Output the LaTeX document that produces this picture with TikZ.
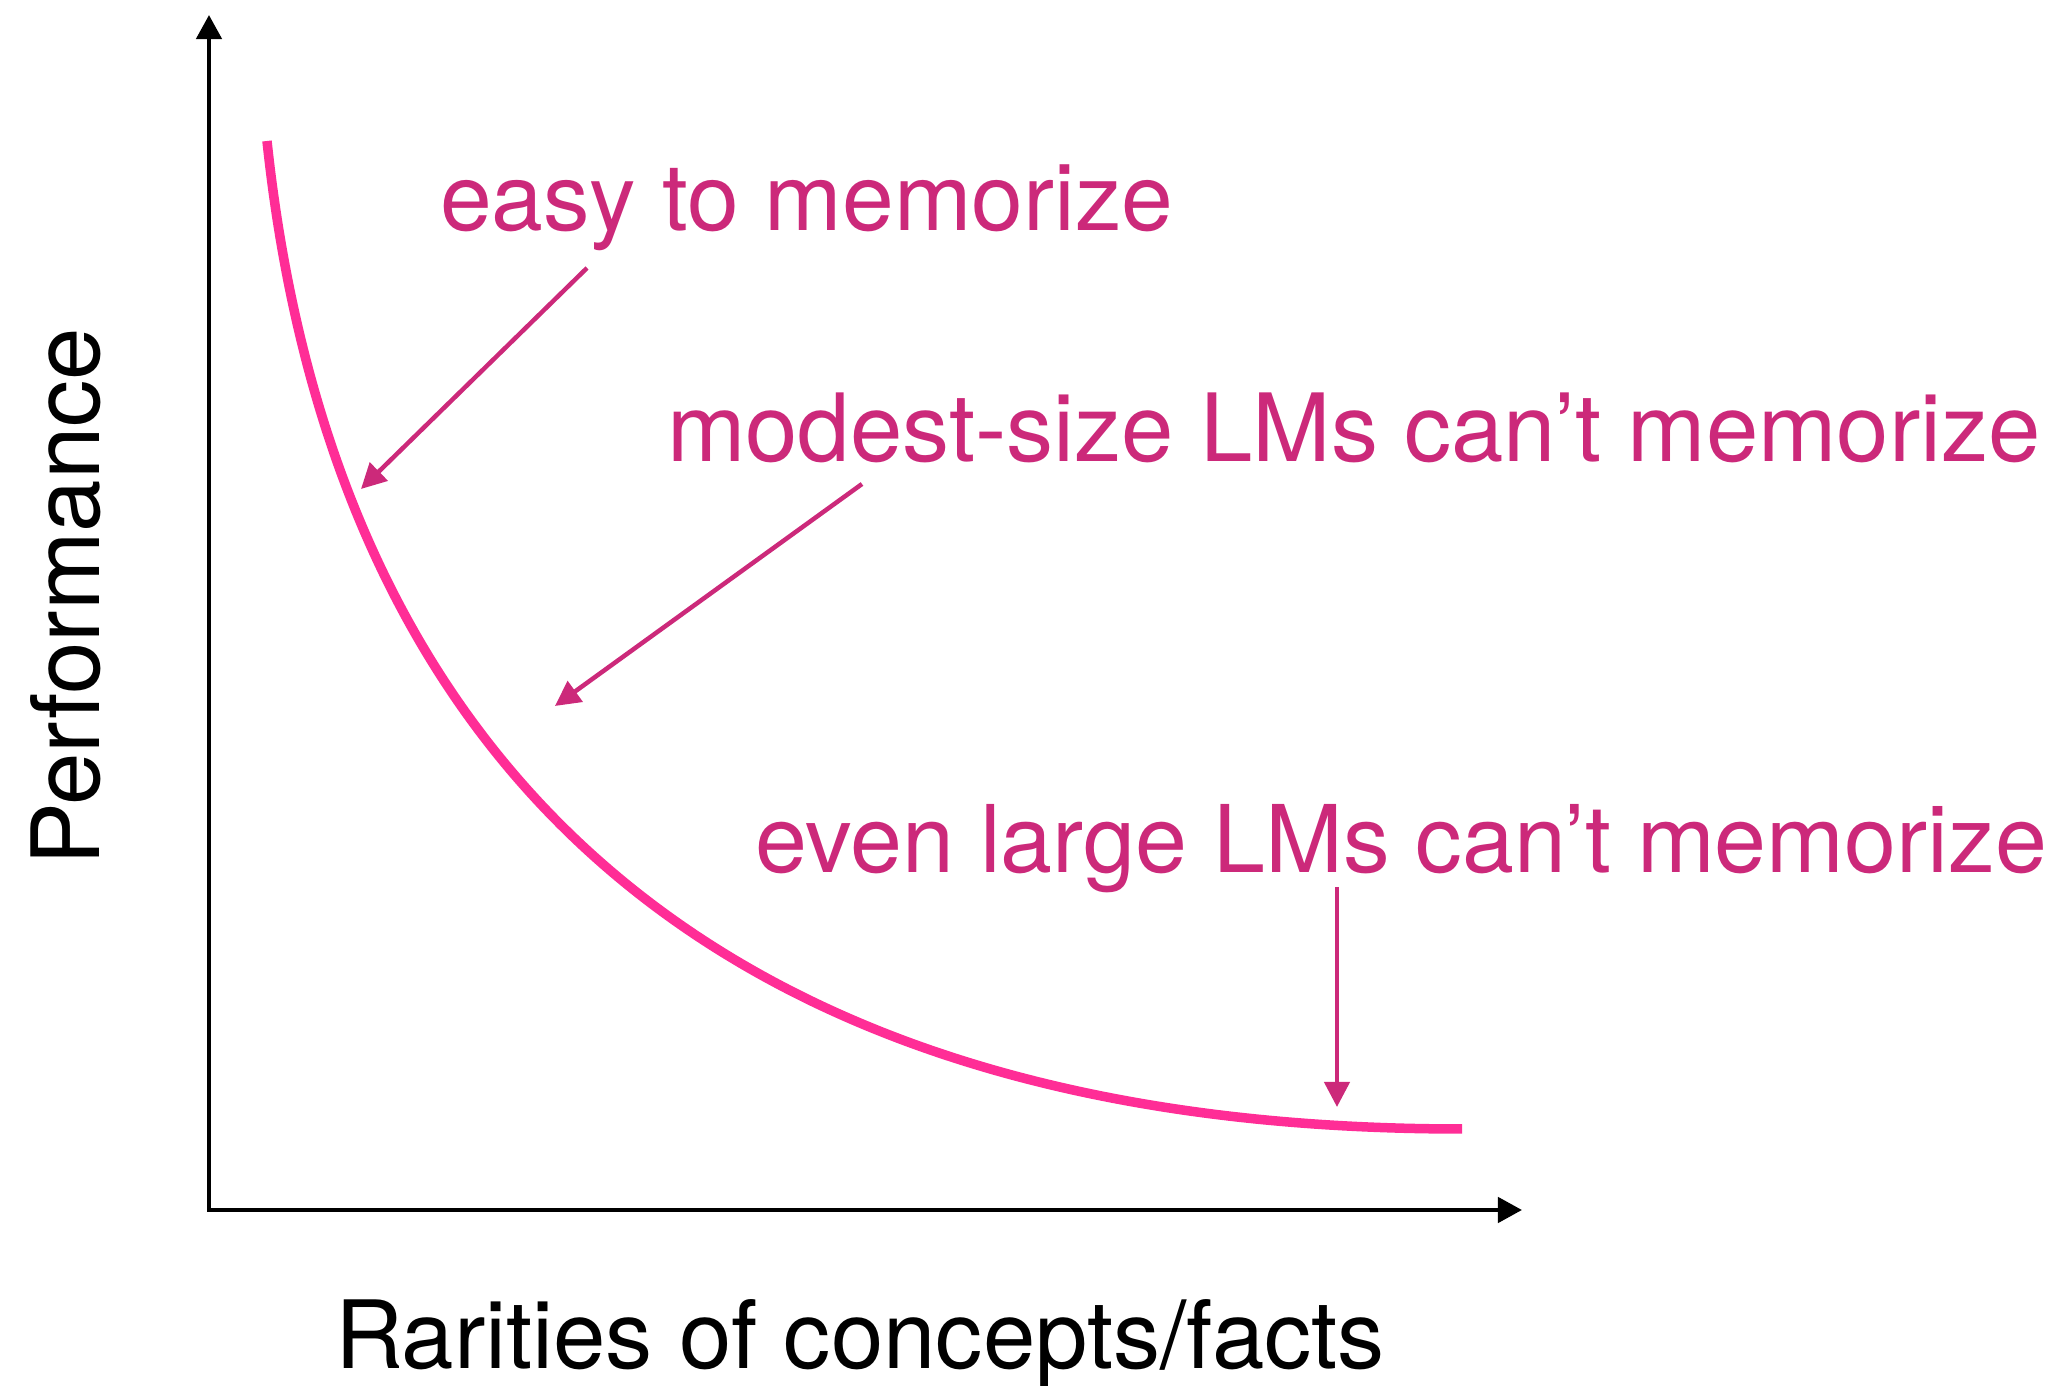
\documentclass[tikz,border=0pt]{standalone}
\usepackage{fontspec}
\setmainfont{TeX Gyre Heros}
\usetikzlibrary{arrows.meta}
\definecolor{annot}{RGB}{204,41,122}
\definecolor{curvepink}{RGB}{255,45,150}
\tikzset{
  lbl/.style={inner sep=0pt, outer sep=0pt, font=\fontsize{26.46pt}{32pt}\selectfont},
  axislbl/.style={lbl, text=black, font=\fontsize{26.8pt}{32pt}\selectfont},
  notelbl/.style={lbl, text=annot},
  axisline/.style={line width=0.045cm, black, line join=miter,
    {Triangle[length=0.24cm,width=0.25cm]}-{Triangle[length=0.24cm,width=0.25cm]}},
  notearrow/.style={line width=0.045cm, annot, -{Triangle[length=0.25cm,width=0.25cm]}},
  trend/.style={line width=0.095cm, curvepink}
}
\begin{document}
\begin{tikzpicture}[x=0.01cm, y=-0.01cm]
  \useasboundingbox (0,0) rectangle (2065,1386);

  % axes
  \coordinate (ytop) at (209,15);
  \coordinate (origin) at (209,1210);
  \coordinate (xend) at (1522,1210);
  \draw[axisline] (ytop) -- (origin) -- (xend);

  % axis labels
  \node[axislbl, anchor=base west] (xlabel) at (335,1369) {Rarities of concepts/facts};
  \node[axislbl, anchor=base west, rotate=90] (ylabel) at (100,866) {Performance};

  % decreasing trend curve
  \coordinate (cstart) at (267,141);
  \coordinate (cend) at (1462,1129);
  \draw[trend] (cstart) .. controls (322,660) and (610,1129) .. (cend);

  % annotations
  \node[notelbl, anchor=base west] (easy) at (440,231) {easy to memorize};
  \node[notelbl, anchor=base west, font=\fontsize{26.78pt}{32pt}\selectfont] (modest) at (667,462) {modest-size LMs can’t memorize};
  \node[notelbl, anchor=base west, font=\fontsize{26.56pt}{32pt}\selectfont] (large) at (755,873) {even large LMs can’t memorize};

  \coordinate (a1s) at (587,268);
  \coordinate (a1e) at (361,489);
  \coordinate (a2s) at (862,484);
  \coordinate (a2e) at (555,706);
  \coordinate (a3s) at (1337,887);
  \coordinate (a3e) at (1337,1107);
  \draw[notearrow] (a1s) -- (a1e);
  \draw[notearrow] (a2s) -- (a2e);
  \draw[notearrow] (a3s) -- (a3e);
\end{tikzpicture}
\end{document}
